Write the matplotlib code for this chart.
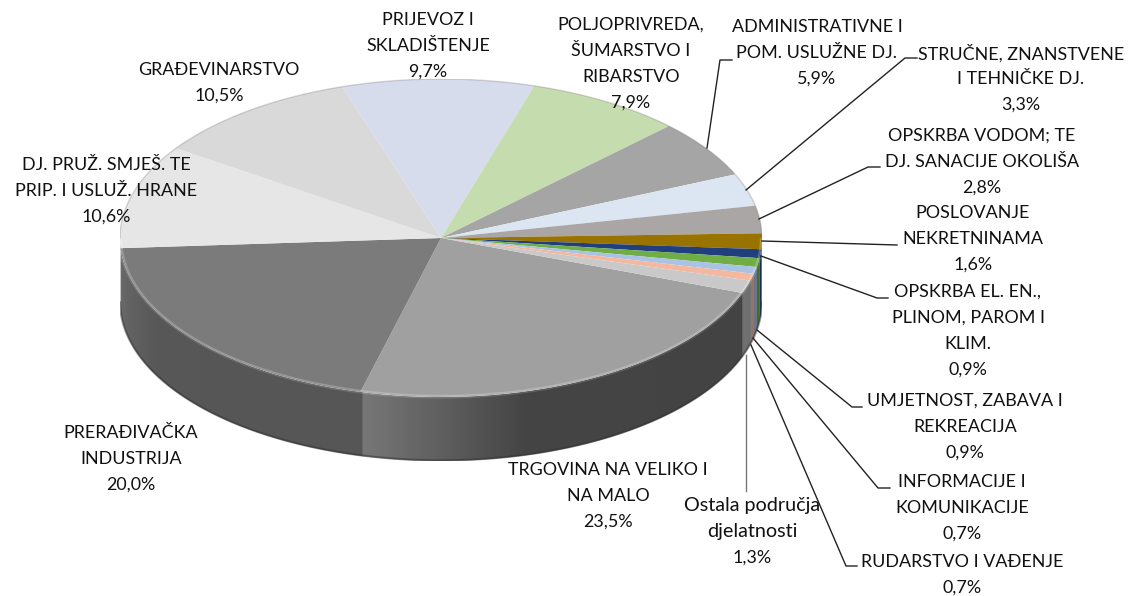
import numpy as np
import matplotlib
matplotlib.use("Agg")
import matplotlib.pyplot as plt
from matplotlib.colors import to_rgb
from matplotlib.patches import Polygon

plt.rcParams['font.family'] = ['Lato', 'DejaVu Sans']

# data, clockwise starting from the big slice
labels = ["TRGOVINA NA VELIKO I\nNA MALO", "PRERAĐIVAČKA\nINDUSTRIJA",
          "DJ. PRUŽ. SMJEŠ. TE\nPRIP. I USLUŽ. HRANE", "GRAĐEVINARSTVO",
          "PRIJEVOZ I\nSKLADIŠTENJE", "POLJOPRIVREDA,\nŠUMARSTVO I\nRIBARSTVO",
          "ADMINISTRATIVNE I\nPOM. USLUŽNE DJ.", "STRUČNE, ZNANSTVENE\nI TEHNIČKE DJ.",
          "OPSKRBA VODOM; TE\nDJ. SANACIJE OKOLIŠA", "POSLOVANJE\nNEKRETNINAMA",
          "OPSKRBA EL. EN.,\nPLINOM, PAROM I\nKLIM.", "UMJETNOST, ZABAVA I\nREKREACIJA",
          "INFORMACIJE I\nKOMUNIKACIJE", "RUDARSTVO I VAĐENJE",
          "Ostala područja\ndjelatnosti"]
values = [23.5, 20.0, 10.6, 10.5, 9.7, 7.9, 5.9, 3.3, 2.8, 1.6, 0.9, 0.9, 0.7, 0.7, 1.3]

colors = ["#A0A0A0", "#7B7B7B", "#E6E6E6", "#D9D9D9", "#D6DCEC", "#C5DDAE", "#A5A5A5",
          "#DCE6F2", "#ABA6A6", "#997300", "#203F7C", "#70AD47", "#A9C3E5", "#F4B8A0", "#C9C9C9"]
# wall brightness (right end, left end) for each slice
wall_shade = [(.42, .75), (.70, .86), (.8, .8), (.8, .8), (.8, .8), (.8, .8), (.8, .8), (.8, .8),
              (.8, .8), (.62, .8), (.72, .72), (.62, .62), (.6, .6), (.62, .62), (.55, .55)]

# where each label sits (centre x, first line centre y) in picture pixels
label_pos = [(608, 470), (131, 433), (106, 165), (219, 70), (428, 20), (631, 25), (817, 27),
             (1021, 53), (982, 136), (973, 213), (968, 292), (965, 401), (962, 482), (962, 562),
             (752, 506)]
label_size = [12.9] * 14 + [14.2]
pitch = 25.8
# leader lines in picture pixels
leaders = [[(707, 148), (720, 60), (732, 60)],
           [(746, 190), (905, 58), (917, 58)],
           [(759, 219), (868, 167), (880, 167)],
           [(762, 241), (897, 245)],
           [(761, 256), (877, 298), (888, 298)],
           [(757, 330), (852, 407), (862, 407)],
           [(753, 338), (878, 488), (890, 488)],
           [(751, 345), (846, 566), (857, 566)],
           [(746, 355), (746, 491)]]
leader_colors = ['#222222'] * 8 + ['#777777']

W, H = 1130, 596
left, right, top, bottom = 120, 762, 79, 397
depth = 64
ry = (bottom - top) / 2
d = depth / ry
start_t = 110.2

fig = plt.figure(figsize=(W / 100, H / 100), dpi=100)
ax = fig.add_axes([left / W, (H - bottom - depth) / H, (right - left) / W, (bottom + depth - top) / H])

# the wall: one clipped gradient per slice
sweep = np.array(values) / sum(values) * 360
ends = start_t + np.cumsum(sweep)
starts = ends - sweep
for i in range(len(values)):
    off = 360 if starts[i] >= 360 else 0
    a, b = max(starts[i] - off, 90), min(ends[i] - off, 270)
    if b <= a:
        continue
    # small overlap so no gap shows between neighbours
    t = np.radians(np.linspace(max(a - .4, 90), b, 200))
    x, y = np.sin(t), np.cos(t)
    xs = np.linspace(x.min(), x.max(), 256)
    ang = 180 - np.degrees(np.arcsin(xs))
    frac = (ang - starts[i] + off) / sweep[i]
    s = np.interp(frac, [0, .65, 1], [wall_shade[i][0], wall_shade[i][0] + .01, wall_shade[i][1]])
    img = np.outer(s, to_rgb(colors[i])).reshape(1, 256, 3)
    im = ax.imshow(img, extent=[xs[0], xs[-1], y.min() - d - .01, y.max() + .01], aspect='auto',
                   interpolation='bilinear', zorder=1 + i * .01)
    clip = Polygon(np.c_[np.r_[x, x[::-1]], np.r_[y, y[::-1] - d]], transform=ax.transData)
    im.set_clip_path(clip)

# dark soft edge under the wall
t = np.radians(np.linspace(90, 270, 300))
ax.plot(np.sin(t), np.cos(t) - d + .004, color='#333333', lw=1.6, alpha=.5, solid_capstyle='butt', zorder=2)

wedges, _ = ax.pie(values, colors=colors, startangle=90 - start_t, counterclock=False, radius=1)
for w in wedges:
    w.set_zorder(3)
ax.set_aspect('auto')
ax.set_xlim(-1, 1)
ax.set_ylim(-1 - d, 1)
ax.axis('off')

# bevel on the rim
ax.plot(np.sin(t), np.cos(t), color='white', lw=2.5, alpha=.14, solid_capstyle='butt', zorder=4)
ax.plot(np.sin(t) * .995, np.cos(t) * .99, color='white', lw=1, alpha=.14, solid_capstyle='butt', zorder=4)
t = np.radians(np.linspace(-90, 90, 300))
ax.plot(np.sin(t), np.cos(t), color='#777777', lw=1, alpha=.3, zorder=4)

# overlay in picture pixels for the labels
over = fig.add_axes([0, 0, 1, 1])
over.set_xlim(0, W)
over.set_ylim(H, 0)
over.axis('off')
over.patch.set_alpha(0)
for line, c in zip(leaders, leader_colors):
    xs, ys = zip(*line)
    over.plot(xs, ys, color=c, lw=1)
for name, val, (px, py), size in zip(labels, values, label_pos, label_size):
    rows = name.split("\n")
    for k, row in enumerate(rows):
        over.text(px, py + k * pitch, row, ha='center', va='center', fontsize=size, color='#111111')
    over.text(px, py + len(rows) * pitch, f"{val:.1f}%".replace(".", ","), ha='center', va='center',
              fontsize=12.9, color='#111111')

fig.savefig("out.png", dpi=100)
